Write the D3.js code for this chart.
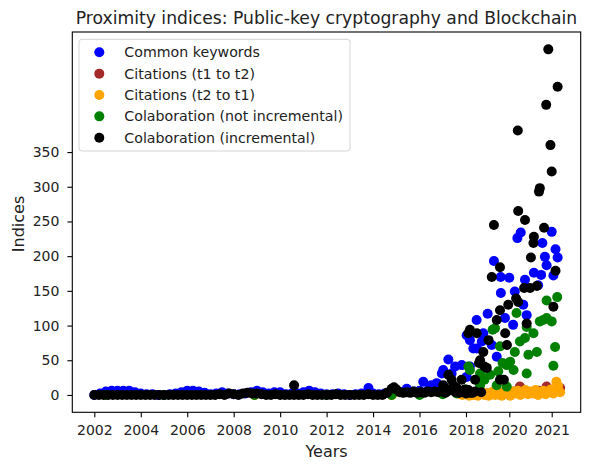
<!DOCTYPE html>
<html>
<head>
<meta charset="utf-8">
<script src="https://cdn.jsdelivr.net/npm/d3@7"></script>
<style>
  body { margin: 0; background: #fff; }
  text { font-family: "DejaVu Sans", sans-serif; fill: #222; }
</style>
</head>
<body>
<svg width="595" height="465"></svg>
<script>
// tick labels
const xTicks = [2002, 2004, 2006, 2008, 2010, 2012, 2014, 2016, 2018, 2020, 2021];
const yTicks = [0, 50, 100, 150, 200, 250, 300, 350];

// [year, value]
const commonKeywords = [
    [2002.0,0],[2002.25,2],[2002.5,5],[2002.75,6],[2003.0,6],[2003.25,6],[2003.5,6],[2003.75,4],
    [2004.0,2],[2004.25,1],[2004.5,1],[2004.75,0],[2005.0,0],[2005.25,1],[2005.5,2],[2005.75,4],
    [2006.0,6],[2006.25,6],[2006.5,5],[2006.75,3],[2007.0,1],[2007.25,2],[2007.5,4],[2007.75,2],
    [2008.0,1],[2008.25,1],[2008.5,2],[2008.75,4],[2009.0,6],[2009.25,4],[2009.5,2],[2009.75,4],
    [2010.0,4],[2010.25,1],[2010.5,2],[2010.75,2],[2011.0,4],[2011.25,6],[2011.5,4],[2011.75,2],
    [2012.0,1],[2012.25,1],[2012.5,2],[2012.75,1],[2013.0,0],[2013.25,1],[2013.5,2],[2013.8,10],
    [2014.0,2],[2014.25,1],[2014.5,2],[2014.75,4],[2015.0,6],[2015.25,4],[2015.45,9],[2015.75,5],
    [2016.0,6],[2016.16,19],[2016.4,8],[2016.5,14],[2016.74,17],[2016.96,31],[2017.02,36],
    [2017.24,51],[2017.38,31],[2017.53,41],[2017.82,43],[2018.03,86],[2018.03,26],[2018.18,79],
    [2018.18,41],[2018.34,67],[2018.49,108],[2018.49,22],[2018.5,67],[2018.73,77],[2018.8,89],
    [2019.0,117],[2019.19,72],[2019.29,193],[2019.42,55],[2019.6,170],[2019.61,147],[2019.8,111],
    [2020.0,169],[2020.09,101],[2020.13,149],[2020.19,226],[2020.27,234],[2020.33,130],
    [2020.37,166],[2020.41,115],[2020.58,176],[2020.68,158],[2020.75,173],[2020.78,219],
    [2020.84,199],[2020.88,187],[2021.0,235],[2021.04,172],[2021.09,210],[2021.14,198]
];

const citationsT1T2 = [
    [2008.9,0],[2014.8,0],[2018.5,1],[2019.0,2],[2019.5,1],[2019.9,3],[2020.1,5],[2020.25,12],
    [2020.5,4],[2020.7,6],[2020.88,12],[2021.0,7],[2021.2,10]
];

const citationsT2T1 = [
    [2008.9,0],[2014.8,0],[2017.75,1],[2017.85,0],[2017.95,3],[2018.05,2],[2018.15,-1],[2018.25,1],
    [2018.35,0],[2018.45,3],[2018.55,-1],[2018.65,1],[2018.75,4],[2018.85,0],[2018.95,2],
    [2019.05,-1],[2019.15,3],[2019.25,5],[2019.35,0],[2019.45,2],[2019.55,4],[2019.65,-1],
    [2019.75,2],[2019.85,6],[2019.95,1],[2020.02,-1],[2020.08,5],[2020.14,2],[2020.2,6],
    [2020.26,0],[2020.32,4],[2020.38,7],[2020.44,1],[2020.5,5],[2020.56,2],[2020.62,7],
    [2020.68,0],[2020.74,4],[2020.8,6],[2020.86,1],[2020.92,5],[2020.98,8],[2021.04,2],
    [2021.08,7],[2021.11,19],[2021.15,13],[2021.2,4]
];

const collabNotIncr = [
    [2002.5,0],[2005.0,0],[2008.9,0],[2012.0,0],[2014.8,0],[2016.0,0],[2017.0,1],[2017.6,2],
    [2017.9,4],[2018.0,8],[2018.11,41],[2018.18,36],[2018.65,14],[2018.65,31],[2018.8,24],
    [2018.85,22],[2019.11,29],[2019.23,94],[2019.34,96],[2019.42,14],[2019.49,34],[2019.57,70],
    [2019.69,46],[2019.88,12],[2019.88,43],[2020.02,48],[2020.1,36],[2020.13,62],[2020.17,118],
    [2020.25,77],[2020.37,82],[2020.41,31],[2020.41,98],[2020.45,58],[2020.57,89],[2020.65,62],
    [2020.72,106],[2020.8,108],[2020.88,111],[2020.88,136],[2021.0,106],[2021.04,42],
    [2021.08,69],[2021.13,141]
];

const collabIncr = [
    [2002.0,0],[2002.2,0],[2002.4,0],[2002.6,0],[2002.8,0],[2003.0,0],[2003.2,0],[2003.4,0],
    [2003.6,0],[2003.8,0],[2004.0,0],[2004.2,0],[2004.4,0],[2004.6,0],[2004.8,0],[2005.0,0],
    [2005.2,0],[2005.4,0],[2005.6,0],[2005.8,0],[2006.0,0],[2006.2,0],[2006.4,0],[2006.6,0],
    [2006.8,0],[2007.0,0],[2007.2,0],[2007.4,1],[2007.6,0],[2007.8,2],[2008.0,1],[2008.2,0],
    [2008.4,2],[2008.6,3],[2008.8,2],[2009.0,2],[2009.2,1],[2009.4,0],[2009.6,0],[2009.8,1],
    [2010.0,0],[2010.2,0],[2010.4,0],[2010.6,0],[2010.6,14],[2010.8,0],[2011.0,0],[2011.2,1],
    [2011.4,0],[2011.6,0],[2011.8,0],[2012.0,0],[2012.2,0],[2012.4,1],[2012.6,0],[2012.8,0],
    [2013.0,0],[2013.2,0],[2013.4,0],[2013.6,0],[2013.8,1],[2014.0,0],[2014.2,0],[2014.4,0],
    [2014.6,3],[2014.8,9],[2014.9,11],[2015.0,8],[2015.15,4],[2015.3,3],[2015.45,4],[2015.6,3],
    [2015.75,5],[2015.9,3],[2016.05,4],[2016.2,3],[2016.35,5],[2016.5,4],[2016.65,5],[2016.8,4],
    [2016.95,6],[2017.02,14],[2017.1,3],[2017.2,5],[2017.24,29],[2017.3,8],[2017.38,22],
    [2017.45,14],[2017.55,4],[2017.6,10],[2017.7,3],[2017.81,22],[2017.9,5],[2017.95,8],
    [2018.0,2],[2018.11,7],[2018.11,89],[2018.18,94],[2018.2,3],[2018.3,3],[2018.42,5],
    [2018.42,22],[2018.5,89],[2018.6,46],[2018.65,50],[2018.7,4],[2018.8,62],[2018.85,41],
    [2018.96,39],[2019.04,79],[2019.19,170],[2019.29,245],[2019.42,108],[2019.57,22],
    [2019.57,122],[2019.57,184],[2019.75,22],[2019.81,89],[2019.89,72],[2019.95,130],
    [2020.16,139],[2020.2,381],[2020.21,134],[2020.21,265],[2020.35,154],[2020.37,252],
    [2020.41,103],[2020.49,154],[2020.51,198],[2020.57,219],[2020.58,228],[2020.65,157],
    [2020.7,293],[2020.72,298],[2020.82,241],[2020.87,418],[2020.92,498],[2020.97,360],
    [2021.0,322],[2021.04,127],[2021.09,179],[2021.14,444]
];

const seriesNames = ["Common keywords", "Citations (t1 to t2)", "Citations (t2 to t1)",
    "Colaboration (not incremental)", "Colaboration (incremental)"];
const seriesColors = ["blue", "brown", "orange", "green", "black"];
const seriesData = [commonKeywords, citationsT1T2, citationsT2T1, collabNotIncr, collabIncr];

const margin = { top: 32, left: 72.3 };
const width = 508.4, height = 380.3;
const dotR = 5;

const svg = d3.select("svg");
const g = svg.append("g").attr("transform", `translate(${margin.left},${margin.top})`);

// x ticks are not evenly spaced in the picture, so piecewise scale
const x = d3.scaleLinear()
    .domain([2002, 2018, 2020, 2021])
    .range([22, 393.7, 437, 479.4]);
const y = d3.scaleLinear().domain([-25, 523]).range([height, 0]);

// points, drawn in legend order (black on top)
seriesData.forEach((data, i) => {
    g.append("g")
        .selectAll("circle")
        .data(data)
        .enter()
        .append("circle")
        .attr("cx", d => x(d[0]))
        .attr("cy", d => y(d[1]))
        .attr("r", dotR)
        .attr("fill", seriesColors[i]);
});

// axes
const xAxis = g.append("g")
    .attr("transform", `translate(0,${height})`)
    .call(d3.axisBottom(x).tickValues(xTicks).tickFormat(d3.format("d"))
        .tickSize(4.9).tickPadding(8).tickSizeOuter(0));
const yAxis = g.append("g")
    .call(d3.axisLeft(y).tickValues(yTicks).tickSize(4.9).tickPadding(8).tickSizeOuter(0));

[xAxis, yAxis].forEach(a => {
    a.select(".domain").remove();
    a.selectAll(".tick line").attr("stroke", "#000").attr("stroke-width", 1.1);
    a.selectAll(".tick text").style("font-size", "14px").style("font-family", "DejaVu Sans").attr("fill", "#222");
});

// frame
g.append("rect")
    .attr("width", width).attr("height", height)
    .attr("fill", "none").attr("stroke", "#000").attr("stroke-width", 1.1);

// labels
svg.append("text")
    .attr("x", margin.left + width / 2).attr("y", 24)
    .attr("text-anchor", "middle").style("font-size", "17.2px")
    .text("Proximity indices: Public-key cryptography and Blockchain");
svg.append("text")
    .attr("x", margin.left + width / 2).attr("y", 457)
    .attr("text-anchor", "middle").style("font-size", "16px")
    .text("Years");
svg.append("text")
    .attr("transform", "translate(24,224) rotate(-90)")
    .attr("text-anchor", "middle").style("font-size", "16px")
    .text("Indices");

// legend
const legend = svg.append("g").attr("transform", "translate(79,39.3)");
legend.append("rect")
    .attr("width", 271).attr("height", 111.7).attr("rx", 3)
    .attr("fill", "#fff").attr("fill-opacity", 0.8)
    .attr("stroke", "#d4d4d4").attr("stroke-width", 1);
seriesNames.forEach((name, i) => {
    const row = legend.append("g").attr("transform", `translate(0,${13 + i * 21.35})`);
    row.append("circle").attr("cx", 20.3).attr("r", dotR).attr("fill", seriesColors[i]);
    row.append("text").attr("x", 45.3).attr("dy", "0.35em")
        .style("font-size", "14.2px").text(name);
});
</script>
</body>
</html>
